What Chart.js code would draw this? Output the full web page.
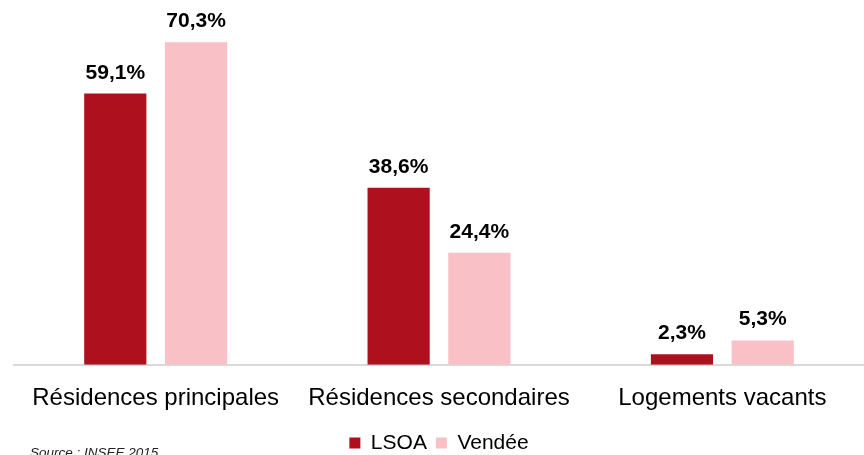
<!DOCTYPE html>
<html lang="fr">
<head>
<meta charset="utf-8">
<script src="https://cdn.jsdelivr.net/npm/chart.js@4/dist/chart.umd.min.js"></script>
<style>
  html, body { margin: 0; padding: 0; background: #fff; }
  #cadre { position: relative; width: 864px; height: 455px; }
</style>
</head>
<body>
<div id="cadre"><canvas id="graphique"></canvas></div>
<script>
// Types de logements (INSEE 2015)
const categories = ['Résidences principales', 'Résidences secondaires', 'Logements vacants'];
const valeursLSOA = [59.1, 38.6, 2.3];
const valeursVendee = [70.3, 24.4, 5.3];
const nomsSeries = ['LSOA', 'Vendée'];
const source = 'Source : INSEE 2015';

// Étiquettes de valeur au-dessus des barres
const etiquettes = {
    id: 'etiquettes',
    afterDatasetsDraw(chart) {
        const ctx = chart.ctx;
        ctx.save();
        ctx.font = 'bold 21px "Liberation Sans", Arial, sans-serif';
        ctx.fillStyle = '#000';
        ctx.textAlign = 'center';
        ctx.textBaseline = 'alphabetic';
        chart.data.datasets.forEach((ds, i) => {
            chart.getDatasetMeta(i).data.forEach((barre, j) => {
                const txt = ds.data[j].toFixed(1).replace('.', ',') + '%';
                ctx.fillText(txt, barre.x, barre.y - 15);
            });
        });
        ctx.restore();
    }
};

// Mention de la source en bas à gauche
const mentionSource = {
    id: 'mentionSource',
    afterDraw(chart) {
        const ctx = chart.ctx;
        ctx.save();
        ctx.font = 'italic 13.5px "Liberation Sans", Arial, sans-serif';
        ctx.fillStyle = '#222';
        ctx.textAlign = 'left';
        ctx.textBaseline = 'top';
        ctx.fillText(source, 30, 446);
        ctx.restore();
    }
};

new Chart(document.getElementById('graphique'), {
    type: 'bar',
    data: {
        labels: categories,
        datasets: [
            { label: nomsSeries[0], data: valeursLSOA, backgroundColor: '#AF101E' },
            { label: nomsSeries[1], data: valeursVendee, backgroundColor: '#F9C0C6' }
        ]
    },
    options: {
        responsive: true,
        maintainAspectRatio: false,
        animation: false,
        categoryPercentage: 0.57,
        barPercentage: 0.77,
        layout: { padding: { left: 14, right: 0, top: 0, bottom: -8.5 } },
        scales: {
            x: {
                grid: { display: false },
                border: { display: true, color: '#d9d9d9', width: 2 },
                ticks: {
                    color: '#000',
                    padding: 11,
                    font: { family: '"Liberation Sans", Arial, sans-serif', size: 24 }
                }
            },
            y: {
                display: false,
                min: 0,
                max: 79.5
            }
        },
        plugins: {
            legend: {
                position: 'bottom',
                labels: {
                    color: '#000',
                    boxWidth: 11,
                    boxHeight: 11,
                    padding: 9,
                    font: { family: '"Liberation Sans", Arial, sans-serif', size: 21 }
                }
            },
            tooltip: { enabled: false }
        }
    },
    plugins: [etiquettes, mentionSource]
});
</script>
</body>
</html>
